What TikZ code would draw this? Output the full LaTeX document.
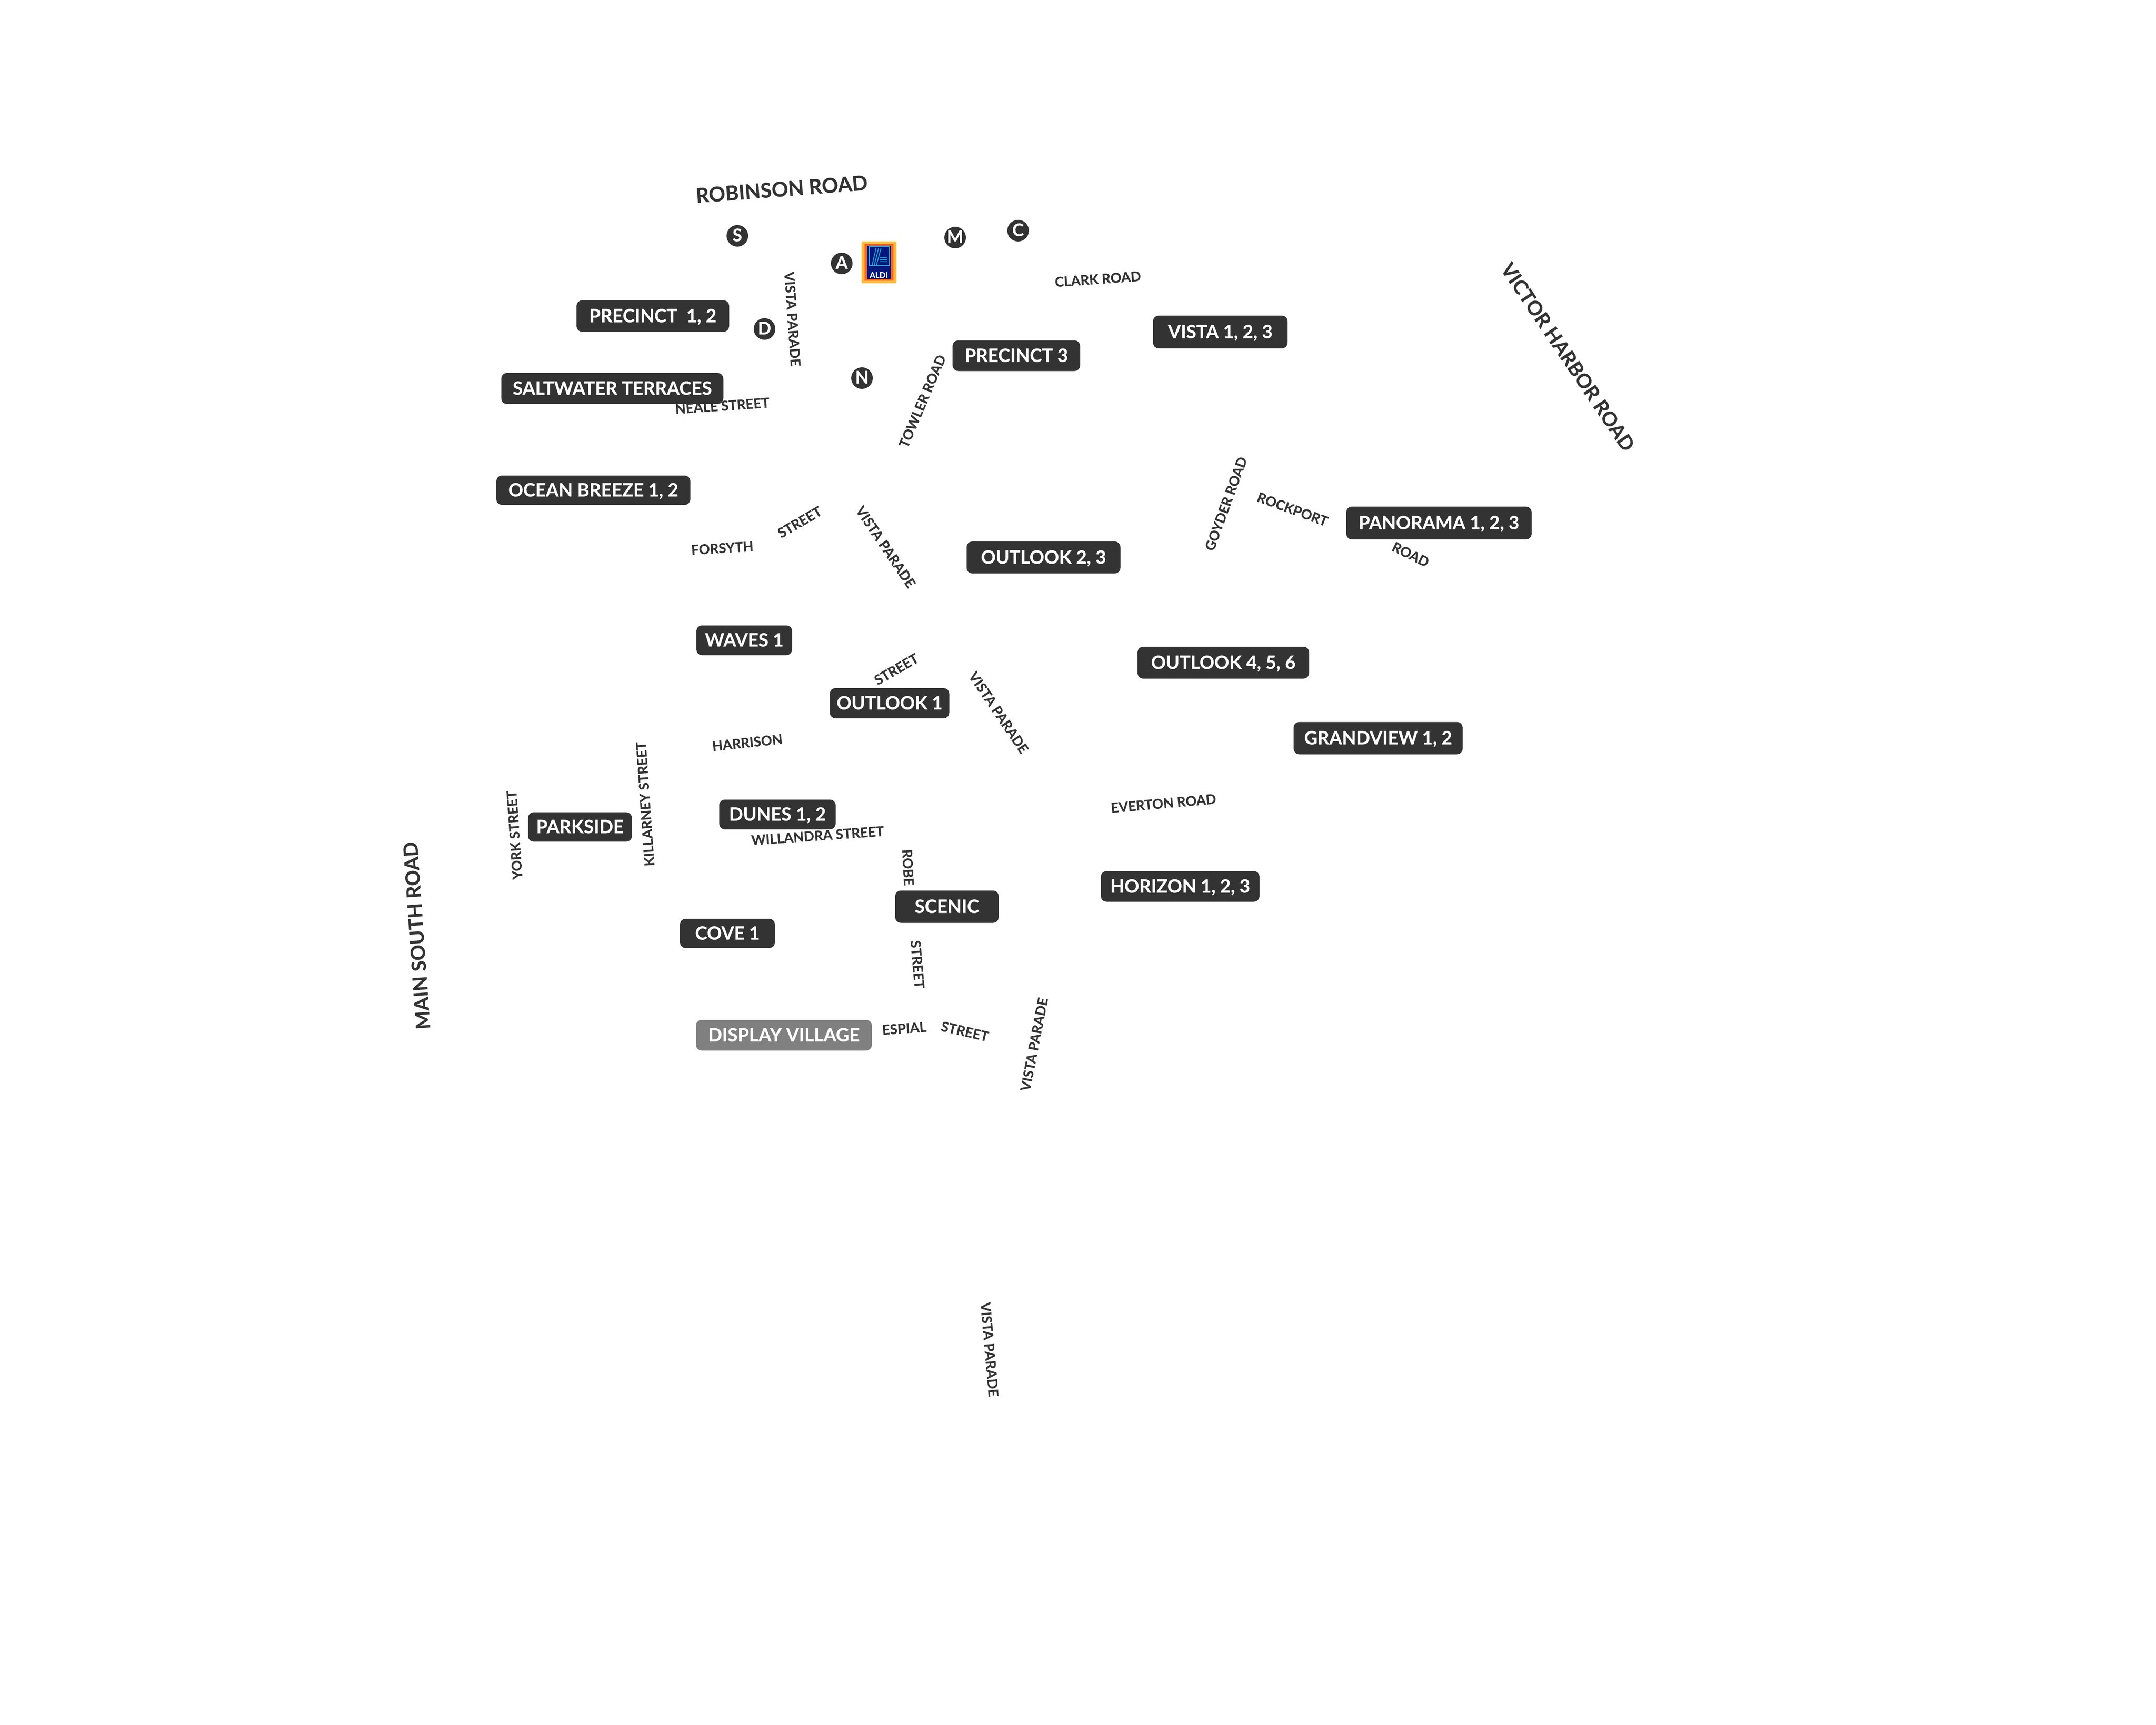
\documentclass[tikz,border=0pt]{standalone}
\usepackage{fontspec}
\setmainfont{Lato}[BoldFeatures={FakeBold=0.35}]
\definecolor{plotgrey}{HTML}{333333}
\definecolor{displaygrey}{HTML}{808080}
\definecolor{aldiyellow}{HTML}{FFB940}
\definecolor{aldiorange}{HTML}{F2641E}
\definecolor{aldinavy}{HTML}{00187C}
\definecolor{aldicyan}{HTML}{12A5D8}
\tikzset{
	plot/.style={fill=plotgrey, text=white, rounded corners=0.13cm, inner sep=0pt,
		font=\fontsize{12.1}{13}\bfseries, text height=0.82em, text depth=0pt},
	displayplot/.style={plot, fill=displaygrey},
	street/.style={text=plotgrey, inner sep=0pt, font=\fontsize{9}{10}\bfseries,
		text height=0.72em, text depth=0pt},
	mainroad/.style={street, font=\fontsize{13}{15}\bfseries},
	shop/.style={circle, fill=plotgrey, text=white, inner sep=0pt, minimum size=0.5cm,
		font=\fontsize{11.5}{12}\bfseries, text height=0.72em, text depth=0pt}
}
\begin{document}
\begin{tikzpicture}
	\useasboundingbox (0,0) rectangle (50,-40);
	% plots
	\node[plot, minimum width=3.54cm, minimum height=0.73cm] (precinctA) at (15.14,-7.33) {PRECINCT\ \ 1, 2};
	\node[plot, minimum width=5.15cm, minimum height=0.72cm] (saltwater) at (14.20,-9.01) {SALTWATER TERRACES};
	\node[plot, minimum width=4.50cm, minimum height=0.68cm] (ocean) at (13.76,-11.37) {OCEAN BREEZE 1, 2};
	\node[plot, minimum width=2.96cm, minimum height=0.71cm] (precinctB) at (23.57,-8.25) {PRECINCT 3};
	\node[plot, minimum width=3.12cm, minimum height=0.76cm] (vista) at (28.30,-7.70) {VISTA 1, 2, 3};
	\node[plot, minimum width=4.30cm, minimum height=0.76cm] (panorama) at (33.37,-12.13) {PANORAMA 1, 2, 3};
	\node[plot, minimum width=3.57cm, minimum height=0.74cm] (outlookB) at (24.20,-12.93) {OUTLOOK 2, 3};
	\node[plot, minimum width=2.22cm, minimum height=0.69cm] (waves) at (17.26,-14.85) {WAVES 1};
	\node[plot, minimum width=2.77cm, minimum height=0.70cm] (outlookA) at (20.63,-16.31) {OUTLOOK 1};
	\node[plot, minimum width=3.98cm, minimum height=0.74cm] (outlookC) at (28.37,-15.37) {OUTLOOK 4, 5, 6};
	\node[plot, minimum width=3.92cm, minimum height=0.75cm] (grandview) at (31.96,-17.12) {GRANDVIEW 1, 2};
	\node[plot, minimum width=2.41cm, minimum height=0.68cm] (parkside) at (13.45,-19.18) {PARKSIDE};
	\node[plot, minimum width=2.70cm, minimum height=0.69cm] (dunes) at (18.03,-18.89) {DUNES 1, 2};
	\node[plot, minimum width=2.40cm, minimum height=0.75cm] (scenic) at (21.96,-21.03) {SCENIC};
	\node[plot, minimum width=3.68cm, minimum height=0.71cm] (horizon) at (27.37,-20.56) {HORIZON 1, 2, 3};
	\node[plot, minimum width=2.20cm, minimum height=0.68cm] (cove) at (16.87,-21.65) {COVE 1};
	\node[displayplot, minimum width=4.08cm, minimum height=0.71cm] (display) at (18.18,-24.01) {DISPLAY VILLAGE};
	% main roads
	\node[mainroad, font=\fontsize{13.5}{15}\bfseries, rotate=4.4] (robinson) at (18.13,-4.43) {ROBINSON ROAD};
	\node[mainroad, rotate=-56] (victor) at (36.33,-8.30) {VICTOR HARBOR ROAD};
	\node[mainroad, rotate=94] (mainsouth) at (9.70,-21.70) {MAIN SOUTH ROAD};
	% streets
	\node[street, rotate=-86] (vistaA) at (18.39,-7.40) {VISTA PARADE};
	\node[street, rotate=4] (neale) at (16.75,-9.40) {NEALE STREET};
	\node[street, rotate=4] (clark) at (25.46,-6.46) {CLARK ROAD};
	\node[street, rotate=67] (towler) at (21.38,-9.30) {TOWLER ROAD};
	\node[street, rotate=70] (goyder) at (28.42,-11.68) {GOYDER ROAD};
	\node[street, rotate=-20] (rockport) at (29.98,-11.80) {ROCKPORT};
	\node[street, rotate=-26] (rockroad) at (32.72,-12.85) {ROAD};
	\node[street, rotate=3.5] (forsyth) at (16.75,-12.70) {FORSYTH};
	\node[street, rotate=30] (forstreet) at (18.54,-12.10) {STREET};
	\node[street, rotate=-56] (vistaB) at (20.55,-12.68) {VISTA PARADE};
	\node[street, rotate=30] (harstreet) at (20.78,-15.51) {STREET};
	\node[street, rotate=-56] (vistaC) at (23.17,-16.52) {VISTA PARADE};
	\node[street, rotate=6] (harrison) at (17.33,-17.21) {HARRISON};
	\node[street, rotate=5] (everton) at (26.98,-18.62) {EVERTON ROAD};
	\node[street, rotate=94] (york) at (11.92,-19.37) {YORK STREET};
	\node[street, rotate=94] (killarney) at (14.95,-18.65) {KILLARNEY STREET};
	\node[street, rotate=4] (willandra) at (18.96,-19.37) {WILLANDRA STREET};
	\node[street, rotate=-87] (robe) at (21.07,-20.12) {ROBE};
	\node[street, rotate=-85] (robestreet) at (21.29,-22.37) {STREET};
	\node[street, rotate=4] (espial) at (20.97,-23.84) {ESPIAL};
	\node[street, rotate=-13] (espstreet) at (22.38,-23.91) {STREET};
	\node[street, rotate=79] (vistaD) at (23.97,-24.22) {VISTA PARADE};
	\node[street, rotate=-85] (vistaE) at (22.96,-31.30) {VISTA PARADE};
	% shops
	\node[shop] (shopS) at (17.10,-5.47) {S};
	\node[shop] (shopA) at (19.52,-6.11) {A};
	\node[shop] (shopM) at (22.15,-5.51) {M};
	\node[shop] (shopC) at (23.61,-5.35) {C};
	\node[shop] (shopD) at (17.73,-7.63) {D};
	\node[shop] (shopN) at (19.99,-8.77) {N};
	% aldi sign
	\fill[aldiyellow, rounded corners=0.03cm] (19.98,-5.60) rectangle (20.79,-6.57);
	\fill[aldiorange] (20.05,-5.66) rectangle (20.72,-6.51);
	\fill[aldinavy] (20.11,-5.70) rectangle (20.66,-6.47);
	\draw[aldicyan, line width=0.015cm] (20.16,-5.72) rectangle (20.62,-6.16);
	\foreach \bottom/\top in {20.223/20.317, 20.273/20.377, 20.323/20.433}
		\draw[aldicyan, line width=0.02cm] (\bottom,-6.157) -- (\top,-5.75);
	\foreach \level in {5.967, 6.017, 6.067}
		\draw[aldicyan, line width=0.02cm] (20.40,-\level) -- (20.567,-\level);
	\node[text=white, inner sep=0pt, font=\fontsize{5.3}{6}\bfseries, text height=0.72em, text depth=0pt] (aldi) at (20.38,-6.32) {ALDI};
\end{tikzpicture}
\end{document}
